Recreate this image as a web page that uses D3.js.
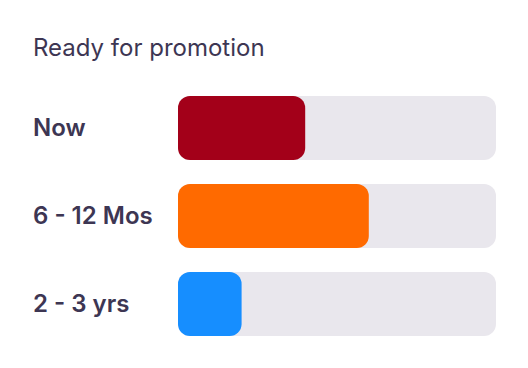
<!DOCTYPE html>
<html><head><meta charset="utf-8">
<script src="https://cdn.jsdelivr.net/npm/d3@7"></script>
<style>html,body{margin:0;padding:0;background:#fff;}</style>
</head><body>
<script>
const title = "Ready for promotion";
const categories = ["Now", "6 - 12 Mos", "2 - 3 yrs"];
const values = [40, 60, 20];
const maxValue = 100;
const colors = ["#a30019", "#ff6a00", "#168eff"];

const W = 528, H = 368;
const svg = d3.select("body").append("svg").attr("width", W).attr("height", H)
  .style("font-family", "Inter, 'Noto Sans', sans-serif");

svg.append("text").attr("x", 33).attr("y", 56).text(title)
  .attr("font-size", 24).attr("fill", "#3d3653");

const x = d3.scaleLinear().domain([0, maxValue]).range([178, 496]);
const y = d3.scaleBand().domain(categories).range([84, 348]).paddingInner(24/88).paddingOuter(12/88);

const g = svg.append("g");
const rows = g.selectAll("g.row").data(categories).join("g").attr("class", "row");
rows.append("rect").attr("x", x(0)).attr("y", d => y(d)).attr("width", x(maxValue) - x(0))
  .attr("height", y.bandwidth()).attr("rx", 12).attr("fill", "#e9e7ed");
rows.append("rect").attr("x", x(0)).attr("y", d => y(d)).attr("width", (d, i) => x(values[i]) - x(0))
  .attr("height", y.bandwidth()).attr("rx", 12).attr("fill", (d, i) => colors[i]);
rows.append("text").attr("x", 33).attr("y", d => y(d) + y.bandwidth() / 2).attr("dy", "0.35em")
  .text(d => d).attr("font-size", 24).attr("font-weight", 600).attr("fill", "#3d3653");
</script>
</body></html>
